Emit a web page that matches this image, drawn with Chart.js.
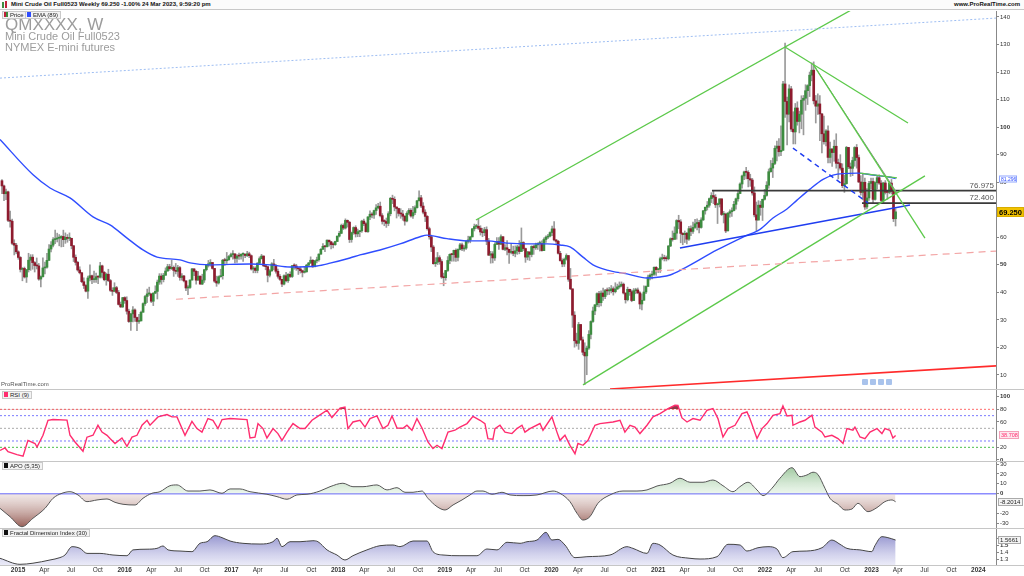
<!DOCTYPE html>
<html lang="en">
<head>
<meta charset="UTF-8">
<title>QMXXXX, W - Mini Crude Oil weekly</title>
<script src="https://cdn.jsdelivr.net/npm/chart.js@4"></script>
<style>
  * { box-sizing: border-box; margin: 0; padding: 0; }
  body { width: 1024px; height: 576px; background: #fff; overflow: hidden; position: relative; font-family: Arial, "Liberation Sans", sans-serif; }
  .pane { position: absolute; left: 0; width: 1024px; }
  .sep { position: absolute; left: 0; width: 1024px; height: 1px; background: #c6c6c6; }
  #hdr { position: absolute; left: 0; top: 0; width: 1024px; height: 10px; border-bottom: 1px solid #c8c8c8; background: #fbfbfb; }
  #hdr .l { position: absolute; left: 11px; top: 1px; font: bold 6px Arial; color: #111; white-space: nowrap; }
  #hdr .r { position: absolute; right: 4px; top: 1px; font: bold 6px Arial; color: #111; }
  .icon { position: absolute; width: 2px; }
  .title { position: absolute; left: 5px; color: #9c9c9c; white-space: nowrap; }
  .tag { position: absolute; height: 8px; background: #f3f3f3; border: 1px solid #c9c9c9; font: 6px Arial; line-height: 6px; color: #222; padding: 0 2px 0 1px; white-space: nowrap; }
  .tag i { display: inline-block; width: 4px; height: 5px; margin-right: 2px; vertical-align: top; }
  .ico { position: absolute; top: 379px; width: 6px; height: 6px; background: #a9c3ec; border-radius: 1px; }
  #prt { position: absolute; left: 1px; top: 381px; font: 6px Arial; color: #555; }
</style>
</head>
<body>
<div id="hdr">
  <div class="icon" style="left:2px;top:2px;height:6px;background:#3d8c40"></div>
  <div class="icon" style="left:5px;top:1px;height:7px;background:#c0203a"></div>
  <div class="l">Mini Crude Oil Full0523 Weekly 69.250 -1.00% 24 Mar 2023, 9:59:20 pm</div>
  <div class="r">www.ProRealTime.com</div>
</div>

<div class="pane" style="top:10px;height:380px"><canvas id="main"></canvas></div>
<div class="pane" style="top:389px;height:72px"><canvas id="rsi"></canvas></div>
<div class="pane" style="top:461px;height:67px"><canvas id="apo"></canvas></div>
<div class="pane" style="top:528px;height:48px"><canvas id="fdi"></canvas></div>

<div class="sep" style="top:389px"></div>
<div class="sep" style="top:461px"></div>
<div class="sep" style="top:528px"></div>
<div class="sep" style="top:565px"></div>

<div class="title" style="top:15px;font-size:17px">QMXXXX, W</div>
<div class="title" style="top:30px;font-size:11px">Mini Crude Oil Full0523</div>
<div class="title" style="top:41px;font-size:11px">NYMEX E-mini futures</div>
<div class="tag" style="left:2px;top:11px"><i style="background:linear-gradient(90deg,#c0203a 50%,#3d8c40 50%)"></i>Price</div>
<div class="tag" style="left:25px;top:11px"><i style="background:#2f4dff"></i>EMA (89)</div>
<div class="tag" style="left:2px;top:391px"><i style="background:#ff2d6f"></i>RSI (9)</div>
<div class="tag" style="left:2px;top:462px"><i style="background:#111"></i>APO (5,35)</div>
<div class="tag" style="left:2px;top:529px"><i style="background:#111"></i>Fractal Dimension Index (30)</div>
<div id="prt">ProRealTime.com</div>
<div class="ico" style="left:862px"></div>
<div class="ico" style="left:870px"></div>
<div class="ico" style="left:878px"></div>
<div class="ico" style="left:886px"></div>

<script>
// ---------- Weekly candles (week ending Fri, from 7 Nov 2014) ----------
const firstOpen = 80.54;

const closes14 = [78.65,75.82,76.51,66.15,65.84,57.81,57.13,54.73];
const highs14  = [81.0,79.0,77.5,76.8,69.5,66.6,59.1,57.8];
const lows14   = [75.8,73.3,73.7,65.7,63.7,57.3,53.6,54.0];

const closes15 = [52.69,48.36,48.69,45.59,48.24,51.69,52.78,50.81,49.76,49.61,44.84,45.72,48.87,49.14,51.64,55.74,57.15,59.15,59.39,59.69,59.72,60.30,59.13,59.96,59.61,59.63,56.93,52.74,50.89,48.14,47.12,43.87,42.50,40.45,45.22,46.05,44.63,44.68,45.70,45.54,49.63,47.26,44.60,46.59,44.29,40.74,40.39,41.71,39.97,35.62,34.73,38.10];
const highs15  = [55.1,53.0,49.0,49.2,48.3,54.2,53.7,53.7,51.2,52.5,50.5,46.0,52.5,51.0,54.2,57.4,58.4,59.9,62.6,61.5,61.0,60.6,62.6,61.6,61.0,61.6,59.7,57.0,53.6,51.3,49.3,47.3,45.3,42.8,45.9,50.0,46.3,47.7,47.0,46.0,50.9,49.9,47.6,47.0,48.4,44.7,41.7,43.5,42.2,40.7,36.5,38.2];
const lows15   = [52.0,47.4,44.2,45.2,43.6,47.4,48.0,48.4,47.4,48.5,44.4,42.0,45.5,46.7,48.8,51.5,54.7,56.5,57.7,58.3,56.9,56.5,56.6,57.8,58.2,58.8,55.8,51.2,49.9,47.7,46.7,43.5,41.4,40.2,37.8,44.2,43.2,43.6,43.6,43.2,45.2,45.2,44.2,42.6,43.9,40.3,38.9,40.2,39.5,35.4,34.5,34.5];

const closes16 = [37.04,33.16,29.42,32.19,33.62,30.89,29.44,29.64,32.78,35.92,38.50,39.44,39.46,36.79,39.72,40.36,43.73,45.92,44.66,46.21,47.75,49.33,48.62,49.07,47.98,47.64,48.99,45.41,45.95,44.19,41.60,41.80,44.49,48.52,47.64,44.44,45.88,43.03,44.48,48.24,49.81,50.35,50.85,48.70,44.07,43.41,45.69,46.06,51.68,51.50,51.90,53.02,53.72];
const highs16  = [38.4,38.4,33.9,32.4,34.8,34.0,31.0,32.0,33.2,36.2,38.9,41.2,41.9,39.5,39.9,42.4,44.5,46.8,46.8,46.9,48.9,50.2,50.2,51.7,49.6,50.5,49.8,49.4,46.8,46.2,44.2,42.5,44.6,48.7,48.6,47.9,47.6,46.0,46.6,48.4,50.1,51.6,51.9,50.7,48.7,45.9,46.0,48.4,52.0,52.4,54.5,53.4,54.3];
const lows16   = [36.0,32.1,29.1,26.2,29.3,29.5,26.1,28.7,30.6,32.9,35.3,36.3,38.9,36.3,35.2,39.5,37.6,42.9,43.0,43.8,46.6,47.7,48.0,48.3,45.8,46.7,45.8,44.4,44.4,43.8,40.6,39.2,41.4,44.4,46.1,43.0,44.6,42.9,42.8,43.6,47.8,49.2,49.5,48.4,43.6,42.2,43.0,45.5,44.8,49.8,50.5,51.6,52.8];

const closes17 = [53.99,52.37,53.22,53.17,53.83,53.86,53.40,53.99,53.33,48.49,48.78,47.97,50.60,52.24,53.18,49.62,49.33,46.22,47.84,50.33,49.80,47.66,45.83,44.74,43.01,46.04,44.23,46.54,45.77,49.71,49.58,48.82,48.51,47.87,47.29,47.48,49.89,50.66,51.67,49.29,51.45,51.84,53.90,55.64,56.74,56.55,58.95,58.36,57.36,57.30,58.47,60.42];
const highs17  = [55.2,53.8,53.7,54.3,54.0,54.4,54.0,54.9,54.6,53.6,49.4,49.3,50.8,52.9,53.8,53.3,50.2,49.5,48.3,50.8,52.0,50.2,48.5,46.5,44.6,46.4,47.3,46.8,47.5,49.8,50.4,50.2,48.8,49.2,48.1,49.4,50.2,50.9,52.9,51.9,51.6,52.8,54.0,55.9,57.7,57.0,59.1,58.8,58.5,58.1,58.6,60.5];
const lows17   = [52.1,50.7,50.9,52.0,52.1,51.2,52.6,53.0,52.6,48.1,47.1,47.1,47.1,50.2,52.1,49.4,48.2,43.8,45.6,47.6,48.2,47.0,45.2,44.3,42.1,42.7,43.8,43.6,45.4,45.4,48.4,48.0,46.5,47.0,45.6,47.0,47.3,49.5,50.5,49.1,49.3,50.7,51.3,53.8,55.9,54.8,56.7,56.8,55.8,56.1,57.1,58.5];

const closes18 = [61.44,64.30,63.37,66.14,65.45,59.20,61.68,63.55,61.25,62.04,62.34,65.88,64.94,62.06,67.39,68.38,68.10,69.72,70.70,71.28,67.88,65.81,65.74,65.06,68.58,74.15,73.80,71.01,70.46,68.69,68.49,67.63,65.91,68.72,69.80,67.75,68.99,70.78,73.25,74.34,71.34,69.12,67.59,63.14,60.19,56.46,50.42,50.93,52.61,51.20,45.59,45.33];
const highs18  = [62.2,64.8,64.9,66.7,66.3,65.8,61.9,63.8,64.2,63.0,62.5,66.2,66.6,65.3,67.5,69.6,69.0,69.9,71.9,72.3,72.8,68.6,66.4,67.0,69.3,74.5,75.3,74.7,71.0,70.6,70.4,69.8,67.9,69.3,70.4,70.4,71.2,71.4,73.4,76.9,75.2,72.6,70.0,67.9,63.7,60.8,57.0,52.6,54.5,53.3,51.9,47.0];
const lows18   = [60.1,61.3,62.8,63.0,63.7,58.1,58.2,61.1,60.1,60.2,60.2,61.8,64.2,61.9,61.8,66.4,67.0,66.9,68.3,70.3,67.4,64.8,64.2,63.6,64.2,67.8,72.2,69.6,67.0,67.7,66.9,66.2,64.4,65.6,68.2,67.3,66.9,68.2,70.6,73.3,70.8,68.5,65.7,62.6,59.3,54.8,50.2,49.4,50.1,50.2,45.1,42.4];

const closes19 = [47.96,51.59,53.80,53.69,55.26,52.72,55.59,57.26,55.80,56.07,58.52,59.04,60.14,63.08,63.89,64.00,63.30,61.94,61.66,62.76,58.63,53.50,53.99,52.51,57.43,58.47,57.51,60.21,55.63,56.20,55.66,54.50,54.87,54.17,55.10,56.52,54.85,58.09,55.91,52.81,54.70,53.78,56.66,56.20,57.24,57.72,57.77,55.17,59.20,60.07,60.44,61.72];
const highs19  = [48.0,53.0,54.0,54.2,55.4,55.8,55.8,57.8,57.9,57.0,58.9,60.4,60.4,63.2,64.8,64.7,66.6,64.2,63.3,63.6,63.8,59.6,54.9,54.8,58.0,59.9,59.9,60.9,60.3,57.4,58.8,55.6,57.5,56.8,56.9,57.1,58.8,63.4,58.4,56.1,54.9,54.3,56.9,57.2,57.9,58.0,58.6,58.7,59.8,60.5,61.1,62.0];
const lows19   = [44.4,47.6,50.4,51.3,51.3,51.2,51.4,55.4,55.1,55.0,55.6,57.9,58.0,60.2,62.3,63.2,62.8,60.8,60.2,60.6,57.3,53.4,50.6,50.7,51.6,57.3,55.6,57.3,55.4,55.1,53.6,50.5,54.0,53.3,52.9,53.8,54.0,57.7,55.2,50.9,51.8,51.6,52.9,53.8,55.6,55.6,55.0,55.0,55.3,58.1,59.5,60.1];

const closes20 = [63.05,59.04,58.54,54.19,51.56,50.32,52.05,53.38,44.76,41.28,31.73,22.43,21.51,28.34,22.76,18.27,16.94,19.78,24.74,29.43,33.25,35.49,39.55,36.26,39.75,38.49,40.65,40.55,40.59,41.29,40.27,41.22,42.01,42.34,42.97,39.77,37.33,41.11,40.25,37.05,40.60,40.88,39.85,35.79,37.14,40.13,42.15,45.53,46.26,46.57,49.10,48.23];
const highs20  = [64.1,65.7,59.2,58.9,54.9,52.2,52.5,54.0,53.4,48.7,41.0,33.0,25.2,29.1,28.4,23.8,21.7,20.5,26.1,29.7,34.7,35.6,39.8,40.4,40.6,41.6,41.1,41.6,41.8,42.5,42.0,43.5,43.0,43.8,43.8,43.4,39.4,41.9,41.2,40.9,41.4,41.5,41.6,40.3,39.5,42.4,42.4,46.3,46.7,47.7,49.3,49.4];
const lows20   = [60.6,58.7,57.4,53.9,51.3,49.3,49.4,51.7,44.0,41.0,27.3,20.1,20.5,19.3,22.6,17.3,6.5,10.1,19.3,23.1,29.1,31.9,34.8,34.7,35.1,37.1,37.7,39.1,39.2,39.8,39.0,39.8,41.1,41.5,42.0,39.4,36.1,36.9,38.9,36.6,37.0,39.5,39.5,34.0,33.6,37.4,39.5,42.2,44.5,44.9,46.2,46.2];

const closes21 = [48.52,52.24,52.36,52.27,52.20,56.85,59.47,59.24,61.50,66.09,65.61,61.42,60.97,61.45,59.32,63.13,62.14,63.58,64.90,65.37,63.58,66.32,69.62,70.91,71.64,74.05,75.16,74.56,71.81,72.07,73.95,68.28,68.44,62.32,68.74,69.29,69.72,71.97,73.98,75.88,79.35,82.28,83.76,83.57,81.27,80.79,76.10,68.15,66.26,71.67,70.86,73.79,75.21];
const highs21  = [48.6,52.8,53.9,53.5,53.2,57.0,59.8,62.3,63.8,66.4,68.0,66.4,61.7,62.3,61.8,64.0,64.2,65.5,66.5,66.7,66.2,67.1,69.8,71.0,73.0,74.3,76.2,77.0,75.5,72.4,74.0,74.0,69.4,68.8,69.0,70.0,70.7,73.1,74.2,76.7,79.8,82.6,84.0,85.4,84.2,82.9,81.4,78.3,72.8,73.3,73.1,73.9,77.4];
const lows21   = [47.2,47.2,51.8,51.4,51.4,51.8,56.6,58.6,59.3,59.3,63.1,58.0,57.3,58.1,57.6,58.9,60.6,61.4,63.2,62.7,61.6,63.3,66.1,68.4,69.9,70.9,72.6,72.2,70.8,65.0,71.0,67.9,65.2,61.7,62.6,67.3,67.6,69.6,70.2,73.1,75.9,77.8,80.9,81.2,78.3,78.5,75.3,67.4,62.4,66.8,68.0,66.1,73.5];

const closes22 = [78.90,83.82,85.14,86.82,92.31,93.10,91.07,91.59,115.68,109.33,104.70,113.90,99.27,98.26,106.95,102.07,104.69,109.77,110.49,113.23,115.07,118.87,120.67,109.56,107.62,108.43,104.79,97.59,94.70,98.62,89.01,92.09,90.77,93.06,86.87,86.79,85.11,78.74,79.49,92.64,85.61,85.05,87.90,92.61,88.96,80.08,76.28,79.98,71.02,74.29,79.56,80.26];
const highs22  = [80.2,84.8,87.9,88.8,93.2,94.9,95.8,100.5,116.6,130.5,110.9,115.4,114.8,105.6,108.6,109.2,105.8,111.4,111.5,115.4,115.4,120.0,123.3,123.7,111.5,112.1,111.5,105.0,104.0,99.1,100.5,94.6,91.4,95.3,97.6,88.4,90.0,86.7,82.5,93.0,92.1,87.0,89.1,92.9,93.7,89.9,82.4,83.3,81.5,77.7,80.3,81.5];
const lows22   = [74.9,77.8,83.6,81.7,86.4,87.7,89.5,89.6,95.6,103.5,93.5,101.9,98.4,93.9,93.9,100.7,97.9,99.4,97.2,106.1,108.2,111.1,116.8,108.4,101.5,104.6,95.1,90.6,93.8,93.2,87.0,87.0,85.7,87.6,85.1,81.2,84.4,78.0,76.3,79.3,84.9,82.1,82.4,85.8,85.1,79.9,75.3,73.6,70.1,70.3,73.4,77.7];

const closes23 = [73.77,79.86,81.64,79.68,73.39,79.72,76.34,76.32,79.68,76.68,66.74,69.25];
const highs23  = [81.5,80.1,82.4,82.7,80.6,80.0,80.6,77.0,80.0,81.0,77.4,70.4];
const lows23   = [72.5,73.5,77.5,79.2,72.5,72.3,75.7,73.8,75.8,75.7,65.7,64.1];

// ---------- Indicator traces: [decimal year, value] ----------
const emaPts = [[2014.831,95.5],[2015.141,82.7],[2015.300,77.9],[2015.487,74.3],[2015.703,67.4],[2015.862,64.5],[2016.022,59.7],[2016.171,55.4],[2016.303,52.8],[2016.518,51.8],[2016.612,50.7],[2016.799,50.0],[2017.174,50.3],[2017.362,50.0],[2017.549,49.2],[2017.802,49.6],[2017.924,50.6],[2018.111,52.5],[2018.205,53.6],[2018.393,55.4],[2018.580,57.6],[2018.768,60.2],[2018.833,60.8],[2018.889,60.5],[2019.021,59.5],[2019.208,58.7],[2019.396,58.7],[2019.583,57.9],[2019.770,57.6],[2019.958,57.6],[2020.080,57.2],[2020.173,56.5],[2020.295,52.8],[2020.389,50.0],[2020.520,48.1],[2020.708,46.7],[2020.895,45.2],[2021.017,45.6],[2021.111,46.3],[2021.232,48.5],[2021.551,55.4],[2021.795,60.1],[2021.954,62.9],[2022.076,67.0],[2022.207,70.3],[2022.301,73.5],[2022.423,77.5],[2022.545,81.0],[2022.638,82.6],[2022.863,83.3],[2023.013,82.6],[2023.172,81.8],[2023.225,81.3]];

const rsiPts = [[2014.831,15],[2014.878,19],[2014.906,13],[2014.990,8.5],[2015.047,6],[2015.093,31],[2015.159,26],[2015.178,20.5],[2015.234,39],[2015.281,62.7],[2015.328,64],[2015.459,63],[2015.487,39],[2015.534,28.4],[2015.609,13.7],[2015.646,36],[2015.703,39],[2015.749,54.8],[2015.787,44],[2015.834,39],[2015.862,33.8],[2015.909,26],[2015.974,34.8],[2016.021,21.6],[2016.068,36],[2016.115,39],[2016.162,55],[2016.209,62.7],[2016.237,55],[2016.312,68],[2016.396,71.7],[2016.443,68],[2016.490,68],[2016.565,39],[2016.630,61],[2016.677,49.6],[2016.724,44],[2016.780,65.4],[2016.827,62.7],[2016.874,49.6],[2016.912,63.8],[2016.987,65.4],[2017.146,63.8],[2017.174,34.8],[2017.221,36],[2017.249,57.5],[2017.296,49.6],[2017.333,34.8],[2017.390,49.6],[2017.436,41.7],[2017.474,31],[2017.521,44],[2017.577,57.5],[2017.643,49.6],[2017.690,49.6],[2017.755,62.7],[2017.802,68],[2017.896,78.5],[2017.942,67],[2018.018,82],[2018.064,83.7],[2018.092,49.6],[2018.139,60],[2018.205,62.7],[2018.252,52],[2018.299,65.4],[2018.364,69.5],[2018.420,49.6],[2018.467,54.8],[2018.505,69.5],[2018.552,50.5],[2018.608,50],[2018.645,54.8],[2018.692,47],[2018.739,65.4],[2018.786,50.5],[2018.842,28.4],[2018.889,18],[2018.927,23.2],[2018.973,18],[2019.030,44],[2019.095,47],[2019.142,52],[2019.208,57.5],[2019.264,69],[2019.330,62.7],[2019.376,57.5],[2019.404,33.8],[2019.451,32.7],[2019.470,49.6],[2019.517,54.8],[2019.564,44],[2019.629,41.7],[2019.676,49.6],[2019.723,54.8],[2019.751,44],[2019.798,49.6],[2019.892,57.5],[2019.920,47],[2020.004,68],[2020.051,44],[2020.079,31],[2020.126,39],[2020.173,23.2],[2020.220,10],[2020.248,26],[2020.295,23.2],[2020.342,31],[2020.407,54.8],[2020.454,57.5],[2020.576,60],[2020.642,62.7],[2020.688,44],[2020.735,54.8],[2020.782,52],[2020.829,41.7],[2020.895,54.8],[2020.951,68],[2021.017,73.3],[2021.092,81.2],[2021.157,86.4],[2021.185,86],[2021.223,66.4],[2021.270,60],[2021.326,65.4],[2021.392,62.7],[2021.457,78.5],[2021.513,81.2],[2021.560,65.4],[2021.607,36.3],[2021.654,49.6],[2021.720,54.8],[2021.785,73.3],[2021.832,75.8],[2021.860,65],[2021.926,33.8],[2021.973,49.6],[2022.020,57.5],[2022.076,70.6],[2022.141,73.3],[2022.169,85.3],[2022.207,69.5],[2022.254,70.6],[2022.263,54.8],[2022.329,60],[2022.376,62.7],[2022.441,70.6],[2022.469,52],[2022.535,44],[2022.563,36.3],[2022.628,39],[2022.685,33.8],[2022.732,26],[2022.769,49.6],[2022.825,47],[2022.844,52],[2022.891,36.3],[2022.938,33.8],[2022.985,44],[2023.050,49.6],[2023.097,41.7],[2023.125,49.6],[2023.172,47],[2023.200,34.8],[2023.225,38.7]];

const apoPts = [[2014.831,-14.9],[2014.925,-23.4],[2015.037,-33.6],[2015.140,-25],[2015.253,-14.9],[2015.328,-4.7],[2015.412,0.4],[2015.487,2],[2015.562,-1.3],[2015.646,-8.1],[2015.740,-6.4],[2015.834,-5.4],[2015.909,-8.8],[2015.984,-10.8],[2016.096,-11.5],[2016.171,-4.7],[2016.255,0.4],[2016.330,2],[2016.424,8.1],[2016.490,8.9],[2016.593,2.7],[2016.705,2.7],[2016.799,3.8],[2016.912,0.4],[2016.987,4.8],[2017.080,4.8],[2017.174,2],[2017.333,-0.6],[2017.427,-3],[2017.521,-5.7],[2017.614,-1.3],[2017.708,-0.6],[2017.830,2.7],[2017.924,7.1],[2018.045,10.6],[2018.139,7.1],[2018.233,7.1],[2018.364,8.9],[2018.458,3.8],[2018.552,6.1],[2018.627,1.4],[2018.702,1.4],[2018.786,2.7],[2018.842,-4.7],[2018.927,-13.2],[2019.002,-16.6],[2019.077,-11.5],[2019.161,-6.4],[2019.236,-1.3],[2019.301,2.7],[2019.358,2.7],[2019.442,-0.6],[2019.536,1.4],[2019.611,-1.3],[2019.733,-2],[2019.864,-1.3],[2020.014,2.7],[2020.079,0.4],[2020.173,-8.1],[2020.239,-20],[2020.295,-26.8],[2020.360,-23.4],[2020.435,-9.8],[2020.548,-1.3],[2020.670,2.7],[2020.801,2.7],[2020.895,3.8],[2020.989,7.8],[2021.110,10.6],[2021.204,15.7],[2021.298,11.6],[2021.420,11.6],[2021.513,13.9],[2021.607,8.1],[2021.701,2],[2021.766,7.1],[2021.841,11.6],[2021.926,3.8],[2021.982,-2],[2022.066,5.5],[2022.141,15.7],[2022.254,26.4],[2022.329,17.3],[2022.394,19],[2022.451,21.8],[2022.497,19.5],[2022.563,5.5],[2022.610,-4.7],[2022.685,-10.8],[2022.750,-16.6],[2022.816,-15.6],[2022.872,-9.8],[2022.966,-18.3],[2023.050,-14.2],[2023.125,-8.1],[2023.191,-6.4],[2023.225,-8.2]];

const fdiPts = [[2014.831,1.31],[2015.018,1.224],[2015.140,1.24],[2015.300,1.286],[2015.393,1.32],[2015.440,1.357],[2015.506,1.476],[2015.581,1.452],[2015.646,1.38],[2015.768,1.38],[2015.890,1.357],[2016.021,1.347],[2016.077,1.43],[2016.209,1.44],[2016.302,1.452],[2016.359,1.486],[2016.406,1.43],[2016.518,1.414],[2016.630,1.405],[2016.705,1.524],[2016.771,1.547],[2016.846,1.633],[2016.912,1.605],[2016.987,1.557],[2017.108,1.524],[2017.268,1.514],[2017.390,1.547],[2017.427,1.596],[2017.474,1.476],[2017.549,1.547],[2017.643,1.547],[2017.764,1.561],[2017.811,1.547],[2017.896,1.43],[2017.989,1.357],[2018.064,1.286],[2018.139,1.347],[2018.270,1.43],[2018.392,1.49],[2018.514,1.5],[2018.580,1.476],[2018.702,1.557],[2018.833,1.557],[2018.889,1.405],[2018.983,1.357],[2019.142,1.347],[2019.301,1.347],[2019.395,1.443],[2019.489,1.43],[2019.583,1.539],[2019.705,1.524],[2019.770,1.547],[2019.864,1.571],[2019.948,1.681],[2020.004,1.571],[2020.061,1.581],[2020.126,1.5],[2020.220,1.319],[2020.332,1.333],[2020.548,1.357],[2020.707,1.476],[2020.763,1.452],[2020.895,1.38],[2020.951,1.524],[2021.017,1.5],[2021.138,1.357],[2021.298,1.31],[2021.392,1.3],[2021.551,1.333],[2021.654,1.51],[2021.766,1.5],[2021.832,1.414],[2021.935,1.461],[2022.029,1.476],[2022.113,1.443],[2022.169,1.319],[2022.263,1.405],[2022.394,1.414],[2022.535,1.461],[2022.628,1.571],[2022.704,1.51],[2022.769,1.452],[2022.891,1.43],[2023.003,1.405],[2023.031,1.49],[2023.097,1.619],[2023.153,1.605],[2023.225,1.571]];

// ---------- Drawn trend lines: [decimal year, price] ----------
const blueDotted    = [[2014.831,117.8],[2024.166,139.6]];
const salmonDashed  = [[2016.480,37.5],[2024.166,55.0]];
const redSupport    = [[2020.548,4.9],[2024.166,13.3]];
const channelUpper  = [[2019.292,66.3],[2022.807,142.5]];
const channelLower  = [[2020.295,6.4],[2023.500,82.3]];
const peakLine      = [[2022.188,129.1],[2023.341,101.5]];
const steepLine     = [[2022.451,122.9],[2023.500,59.7]];
const grayLine      = [[2022.451,122.9],[2023.238,76.1]];
const shortGreen    = [[2022.891,83.3],[2023.238,81.6]];
const blueTrend     = [[2021.204,56.1],[2023.360,71.7]];
const blueDashed    = [[2022.263,92.4],[2022.966,72.5]];
const levels        = [[2021.504,76.975],[2022.910,72.4]];

// ---------- Axis ticks ----------
const priceTicks = [10,20,30,40,50,60,70,80,90,100,110,120,130,140];
const rsiTicks = [0,20,60,80,100];
const rsiLevels = [80,70,50,30,20];
const apoTicks = [-30,-20,0,10,20,30];
const fdiTicks = [1.3,1.4,1.5,1.6];
const quarterNames = ['', 'Apr', 'Jul', 'Oct'];
const axisYears = [2015,2016,2017,2018,2019,2020,2021,2022,2023,2024];

// ---------- Build ----------
const X_MIN = 2014.831, X_MAX = 2024.166;
const closes = [].concat(closes14, closes15, closes16, closes17, closes18, closes19, closes20, closes21, closes22, closes23);
const highs  = [].concat(highs14, highs15, highs16, highs17, highs18, highs19, highs20, highs21, highs22, highs23);
const lows   = [].concat(lows14, lows15, lows16, lows17, lows18, lows19, lows20, lows21, lows22, lows23);
const opens  = closes.map((c, i) => i ? closes[i - 1] : firstOpen);

function yearFrac(d) {
  const y = d.getFullYear(), s = new Date(y, 0, 1), e = new Date(y + 1, 0, 1);
  return y + (d - s) / (e - s);
}
const times = closes.map((_, i) => yearFrac(new Date(2014, 10, 7 + 7 * i)));
const pts = arr => arr.map(([x, y]) => ({ x, y }));

const xTickVals = [], xTickLabels = [];
axisYears.forEach(y => [0, 3, 6, 9].forEach((m, q) => {
  const v = yearFrac(new Date(y, m, 1));
  if (v >= X_MIN && v <= X_MAX) { xTickVals.push(v); xTickLabels.push(q ? quarterNames[q] : String(y)); }
}));

function line(data, color, width, dash, order) {
  return { type: 'line', data: pts(data), borderColor: color, borderWidth: width, borderDash: dash || [],
           pointRadius: 0, tension: 0, fill: false, order: order ?? 1 };
}

// small boxes / texts next to the right axis
const axisTags = {
  id: 'axisTags',
  afterDraw(chart, _a, opts) {
    const { ctx } = chart, ys = chart.scales.y;
    for (const t of opts.tags || []) {
      const py = Math.round(ys.getPixelForValue(t.value));
      ctx.save();
      ctx.font = t.font;
      if (t.w) {
        ctx.fillStyle = t.bg; ctx.fillRect(t.x, py - t.h / 2, t.w, t.h);
        ctx.strokeStyle = t.border; ctx.lineWidth = 1;
        ctx.strokeRect(t.x + 0.5, py - t.h / 2 + 0.5, t.w - 1, t.h - 1);
        ctx.fillStyle = t.color; ctx.textAlign = 'left'; ctx.textBaseline = 'middle';
        ctx.fillText(t.text, t.x + 2, py + 0.5);
      } else {
        ctx.fillStyle = t.color; ctx.textAlign = 'right'; ctx.textBaseline = 'alphabetic';
        ctx.fillText(t.text, t.x, py + t.dy);
      }
      ctx.restore();
    }
  }
};

function opts(yMin, yMax, ticks, bold, fmt, showX, tags) {
  return {
    responsive: true, maintainAspectRatio: false, animation: false,
    layout: { padding: { top: 1, left: 0, right: 0, bottom: 0 }, autoPadding: false },
    plugins: { legend: { display: false }, tooltip: { enabled: false }, axisTags: { tags } },
    scales: {
      x: {
        type: 'linear', min: X_MIN, max: X_MAX, display: showX, position: 'bottom', offset: false,
        afterBuildTicks: s => { s.ticks = xTickVals.map(v => ({ value: v })); },
        afterFit: s => { if (showX) s.height = 11; s.paddingLeft = 0; s.paddingRight = 0; },
        grid: { display: false, drawTicks: false, tickLength: 0 }, border: { display: false },
        ticks: {
          autoSkip: false, maxRotation: 0, minRotation: 0, padding: 1, color: '#333',
          font: c => ({ family: 'Arial', size: 6.5, weight: (c.index != null && /^\d/.test(xTickLabels[c.index])) ? 'bold' : 'normal' }),
          callback: (v, i) => xTickLabels[i]
        }
      },
      y: {
        position: 'right', min: yMin, max: yMax,
        afterBuildTicks: s => { s.ticks = ticks.map(v => ({ value: v })); },
        afterFit: s => { s.width = 28; s.paddingTop = 0; s.paddingBottom = 0; },
        grid: { drawOnChartArea: false, tickLength: 3, color: '#888' },
        border: { color: '#888' },
        ticks: {
          padding: 1, color: '#333',
          font: c => ({ family: 'Arial', size: 6, weight: (c.tick && bold.includes(c.tick.value)) ? 'bold' : 'normal' }),
          callback: v => fmt(v)
        }
      }
    }
  };
}

// ---------- Main price panel ----------
new Chart(document.getElementById('main'), {
  data: {
    datasets: [
      { type: 'bar', order: 10, grouped: false, barThickness: 1, backgroundColor: '#9a9a9a',
        data: times.map((t, i) => ({ x: t, y: [Math.min(lows[i], opens[i], closes[i]), Math.max(highs[i], opens[i], closes[i])] })) },
      { type: 'bar', order: 9, grouped: false, barThickness: 2, minBarLength: 1,
        backgroundColor: c => closes[c.dataIndex] >= opens[c.dataIndex] ? '#3d8c40' : '#8e1b2e',
        data: times.map((t, i) => ({ x: t, y: [opens[i], closes[i]] })) },
      { type: 'line', order: 5, data: pts(emaPts), borderColor: '#2f4dff', borderWidth: 1.4, pointRadius: 0,
        tension: 0.4, cubicInterpolationMode: 'monotone', fill: false },
      line(blueDotted, '#9dbdf2', 1, [2, 2]),
      line(salmonDashed, '#f3a5a5', 1.2, [7, 5]),
      line(redSupport, '#ff2b2b', 1.6),
      line(channelUpper, '#5cc94a', 1.3),
      line(channelLower, '#5cc94a', 1.3),
      line(peakLine, '#5cc94a', 1.3),
      line(steepLine, '#5cc94a', 1.3),
      line(shortGreen, '#5cc94a', 1.3),
      line(grayLine, '#8a8a8a', 1),
      line(blueTrend, '#1f3df0', 1.5),
      line(blueDashed, '#1f3df0', 1.5, [5, 4]),
      ...levels.map(([t, v]) => line([[t, v], [X_MAX, v]], '#3a3a3a', 1.8))
    ]
  },
  options: opts(4.553, 142.17, priceTicks, [50, 100], v => String(v), false, [
    { value: 76.975, text: '76.975', x: 994, dy: -3, color: '#555', font: '8px Arial' },
    { value: 72.4, text: '72.400', x: 994, dy: -3, color: '#555', font: '8px Arial' },
    { value: 81.296, text: '81.296', x: 999, w: 18, h: 7, bg: '#fff', border: '#8fa6ff', color: '#2f4dff', font: '5px Arial' },
    { value: 69.25, text: '69.250', x: 997, w: 27, h: 10, bg: '#f2c200', border: '#d8ad00', color: '#000', font: 'bold 7.5px Arial' }
  ]),
  plugins: [axisTags]
});

// ---------- RSI panel ----------
const rsiColors = ['#ff6b6b', '#7a7aff', '#aaaaaa', '#7a7aff', '#4cbf4c'];
new Chart(document.getElementById('rsi'), {
  data: {
    datasets: [
      ...rsiLevels.map((v, i) => line([[X_MIN, v], [X_MAX, v]], rsiColors[i], 1, [2, 2], 5)),
      { type: 'line', order: 1, data: pts(rsiPts), borderColor: '#ff2d6f', borderWidth: 1.4, pointRadius: 0, tension: 0,
        fill: { target: { value: 80 }, above: 'rgba(125,25,45,0.85)', below: 'rgba(0,0,0,0)' } }
    ]
  },
  options: opts(-1.6, 110.5, rsiTicks, [0, 100], v => String(v), false, [
    { value: 38.708, text: '38.708', x: 999, w: 20, h: 8, bg: '#fde8ee', border: '#f4a0b8', color: '#ff2d6f', font: '5.5px Arial' }
  ]),
  plugins: [axisTags]
});

// ---------- APO panel ----------
const apoCtx = document.getElementById('apo').getContext('2d');
const apoUp = apoCtx.createLinearGradient(0, 10, 0, 33);
apoUp.addColorStop(0, 'rgba(105,170,105,0.55)');
apoUp.addColorStop(1, 'rgba(205,232,205,0.35)');
const apoDown = apoCtx.createLinearGradient(0, 33, 0, 66);
apoDown.addColorStop(0, 'rgba(215,190,185,0.35)');
apoDown.addColorStop(1, 'rgba(125,55,45,0.8)');
new Chart(apoCtx, {
  data: {
    datasets: [
      line([[X_MIN, 0], [X_MAX, 0]], '#8c8cff', 1.5, [], 5),
      { type: 'line', order: 1, data: pts(apoPts), borderColor: '#555', borderWidth: 1, pointRadius: 0,
        tension: 0.4, cubicInterpolationMode: 'monotone',
        fill: { target: { value: 0 }, above: apoUp, below: apoDown } }
    ]
  },
  options: opts(-34.9, 32.2, apoTicks, [0], v => String(v), false, [
    { value: -8.2014, text: '-8.2014', x: 998, w: 25, h: 8, bg: '#f4f4f4', border: '#aaa', color: '#222', font: '6px Arial' }
  ]),
  plugins: [axisTags]
});

// ---------- Fractal Dimension panel + date axis ----------
const fdiCtx = document.getElementById('fdi').getContext('2d');
const fdiFill = fdiCtx.createLinearGradient(0, 4, 0, 37);
fdiFill.addColorStop(0, 'rgba(110,110,190,0.8)');
fdiFill.addColorStop(1, 'rgba(218,218,242,0.55)');
new Chart(fdiCtx, {
  data: {
    datasets: [
      { type: 'line', data: pts(fdiPts), borderColor: '#444', borderWidth: 1, pointRadius: 0,
        tension: 0.4, cubicInterpolationMode: 'monotone', fill: 'start', backgroundColor: fdiFill }
    ]
  },
  options: opts(1.2143, 1.7286, fdiTicks, [1.5], v => v.toFixed(1), true, [
    { value: 1.5661, text: '1.5661', x: 998, w: 23, h: 8, bg: '#f4f4f4', border: '#aaa', color: '#222', font: '6px Arial' }
  ]),
  plugins: [axisTags]
});
</script>
</body>
</html>
